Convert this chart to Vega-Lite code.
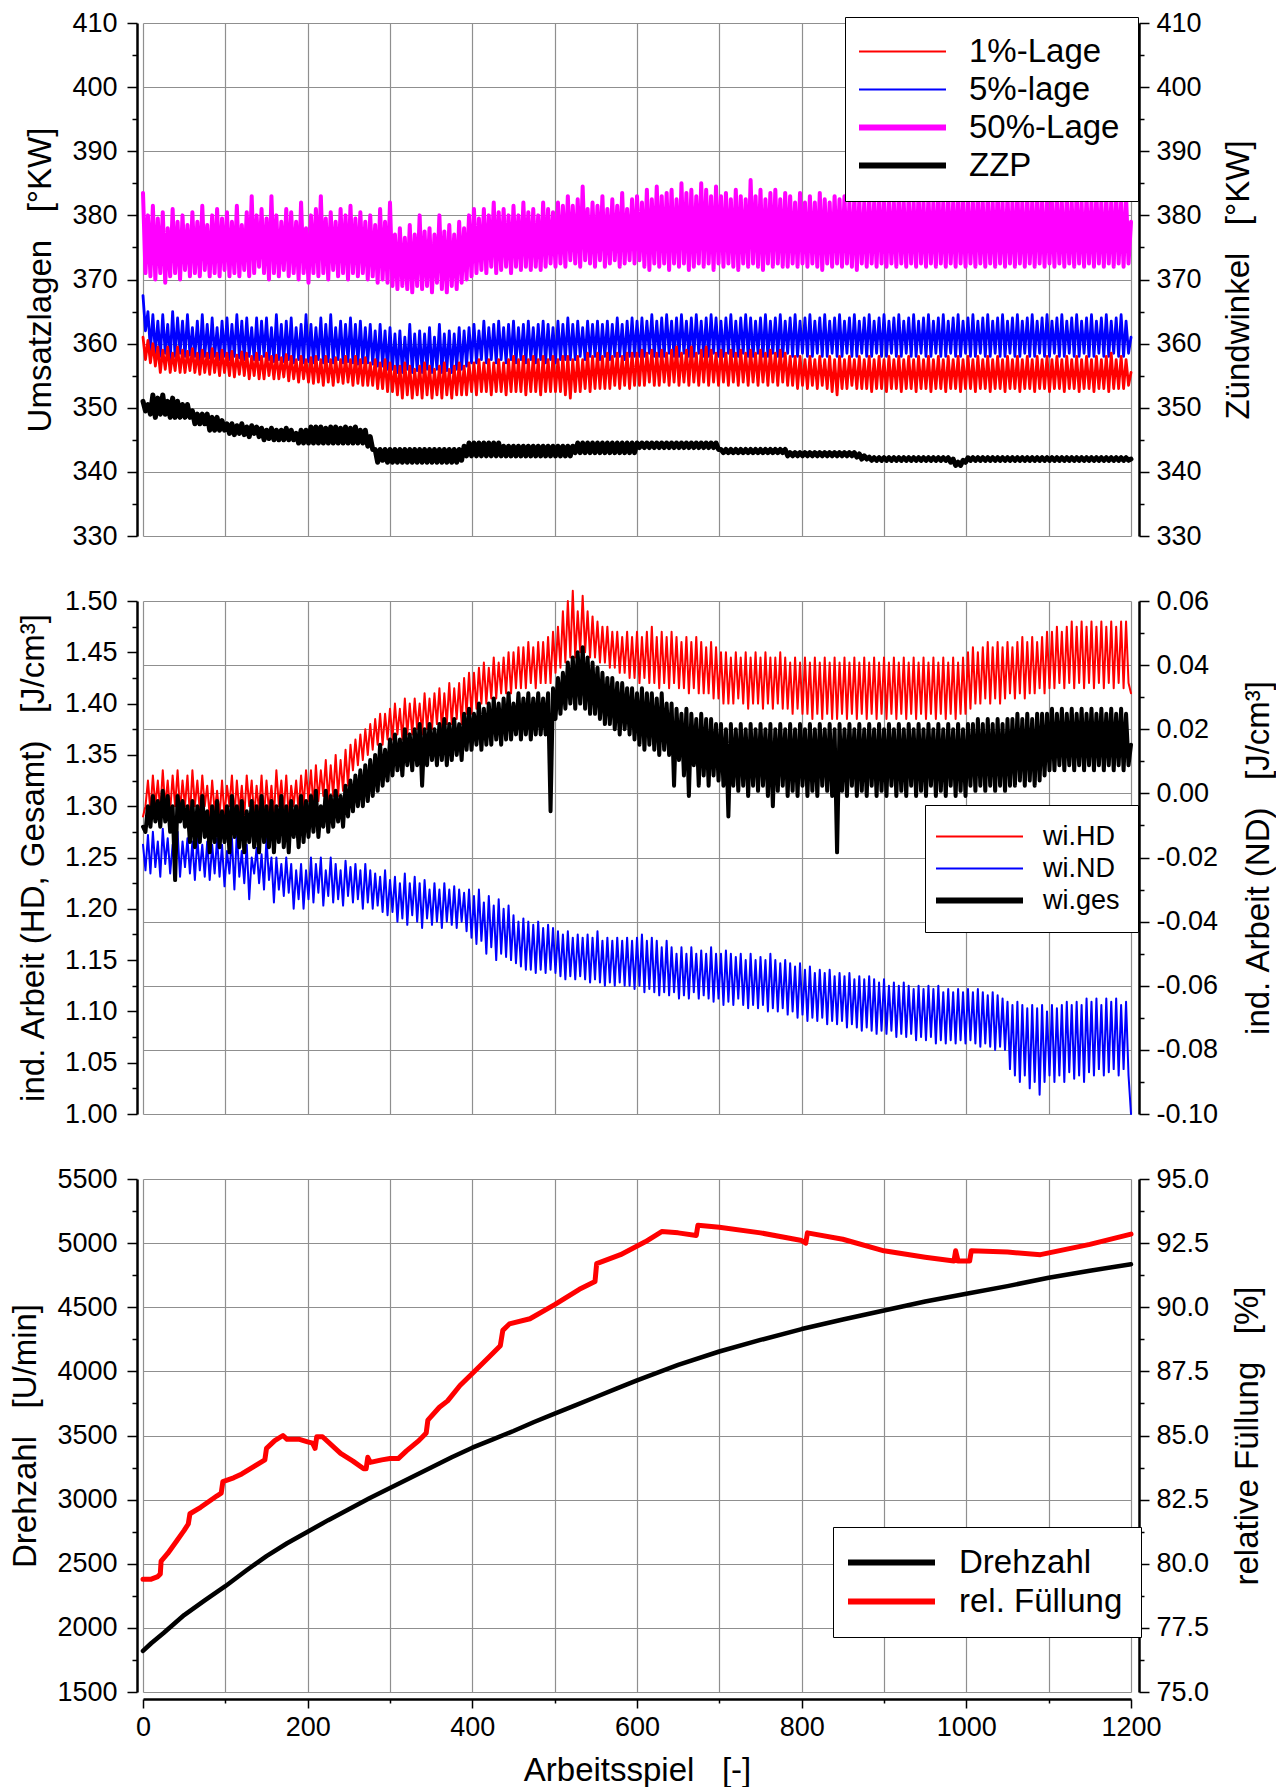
{
"$schema": "https://vega.github.io/schema/vega-lite/v6.json",
"padding": {"left": 9, "top": 9, "right": 0, "bottom": 0},
"spacing": 65,
"bounds": "flush",
"resolve": {"scale": {"color": "independent"}, "legend": {"color": "independent"}},
"config": {
 "font": "Liberation Sans",
 "view": {"stroke": null},
 "axis": {"labelFont": "Liberation Sans", "titleFont": "Liberation Sans", "labelFontSize": 27, "titleFontSize": 33, "titleFontWeight": "normal", "labelColor": "#000", "titleColor": "#000", "domainColor": "#000", "tickColor": "#000", "domainWidth": 2.5, "tickWidth": 1.5, "gridColor": "#8f8f8f", "gridWidth": 1.2, "labelOverlap": false, "labelFlush": false},
 "legend": {"labelFont": "Liberation Sans", "labelColor": "#000", "labelLimit": 400, "strokeColor": "#000", "fillColor": "#fff", "padding": 18, "rowPadding": 4, "symbolType": "M-3,0H3", "symbolSize": 841, "symbolOffset": 23, "labelOffset": 50, "cornerRadius": 0},
 "line": {"strokeJoin": "round", "strokeCap": "round"}
},
"datasets": {
"w": [
{"x":0,"a":361,"b":367.5,"c":383.5,"z":351,"h":1.29,"n":-0.016,"g":1.28},
{"x":3,"a":357.5,"b":362,"c":371,"z":349.5,"h":1.3,"n":-0.024,"g":1.275},
{"x":6,"a":360.5,"b":365,"c":380,"z":350.5,"h":1.325,"n":-0.013,"g":1.3},
{"x":9,"a":357,"b":359,"c":370.5,"z":349,"h":1.295,"n":-0.025,"g":1.28},
{"x":12,"a":360,"b":364.5,"c":381.5,"z":352,"h":1.33,"n":-0.012,"g":1.31},
{"x":15,"a":356.5,"b":358.5,"c":370,"z":348.5,"h":1.3,"n":-0.023,"g":1.285},
{"x":18,"a":359.5,"b":363.5,"c":379.5,"z":351.5,"h":1.325,"n":-0.015,"g":1.305},
{"x":21,"a":355.5,"b":358,"c":371,"z":349,"h":1.295,"n":-0.026,"g":1.28},
{"x":24,"a":359,"b":364.5,"c":380.5,"z":352,"h":1.335,"n":-0.011,"g":1.315},
{"x":27,"a":356,"b":358.5,"c":369.5,"z":349,"h":1.3,"n":-0.022,"g":1.285},
{"x":30,"a":359.5,"b":363,"c":378,"z":351,"h":1.325,"n":-0.014,"g":1.31},
{"x":33,"a":355.5,"b":357.5,"c":370.5,"z":348.5,"h":1.295,"n":-0.025,"g":1.275},
{"x":36,"a":358.5,"b":365,"c":381,"z":351.5,"h":1.33,"n":-0.016,"g":1.3},
{"x":39,"a":355.8,"b":358,"c":371,"z":348.5,"h":1.3,"n":-0.024,"g":1.228},
{"x":42,"a":359.5,"b":364,"c":379,"z":351,"h":1.335,"n":-0.012,"g":1.31},
{"x":45,"a":355.5,"b":358.5,"c":370,"z":348.5,"h":1.295,"n":-0.026,"g":1.285},
{"x":48,"a":359,"b":363.5,"c":380,"z":350.5,"h":1.325,"n":-0.015,"g":1.305},
{"x":51,"a":355.5,"b":358,"c":371.5,"z":348.5,"h":1.3,"n":-0.023,"g":1.28},
{"x":54,"a":358.8,"b":364.5,"c":378.5,"z":350.5,"h":1.33,"n":-0.014,"g":1.3},
{"x":57,"a":355.8,"b":358.2,"c":370.5,"z":348.5,"h":1.29,"n":-0.025,"g":1.265},
{"x":60,"a":359.2,"b":362.5,"c":380.5,"z":349.5,"h":1.335,"n":-0.015,"g":1.305},
{"x":63,"a":355.5,"b":358,"c":371,"z":347.5,"h":1.3,"n":-0.027,"g":1.26},
{"x":66,"a":358.5,"b":363.5,"c":379,"z":349,"h":1.325,"n":-0.014,"g":1.3},
{"x":69,"a":355.2,"b":357.5,"c":370.5,"z":347.5,"h":1.295,"n":-0.024,"g":1.265},
{"x":72,"a":359,"b":364.5,"c":381.5,"z":349,"h":1.33,"n":-0.016,"g":1.31},
{"x":75,"a":355.5,"b":358,"c":371.5,"z":347.5,"h":1.3,"n":-0.026,"g":1.27},
{"x":78,"a":358.5,"b":363,"c":378.5,"z":349,"h":1.32,"n":-0.015,"g":1.295},
{"x":81,"a":355.2,"b":357.8,"c":370.5,"z":346.5,"h":1.29,"n":-0.027,"g":1.255},
{"x":84,"a":359.2,"b":364,"c":380,"z":348.5,"h":1.325,"n":-0.016,"g":1.3},
{"x":87,"a":355.5,"b":358,"c":371,"z":346.5,"h":1.295,"n":-0.025,"g":1.265},
{"x":90,"a":358.5,"b":362.5,"c":381,"z":348.5,"h":1.315,"n":-0.014,"g":1.305},
{"x":93,"a":355,"b":357.5,"c":370.5,"z":346.5,"h":1.29,"n":-0.026,"g":1.26},
{"x":96,"a":359,"b":363.5,"c":379.5,"z":348,"h":1.325,"n":-0.016,"g":1.295},
{"x":99,"a":355.5,"b":358,"c":371.5,"z":346.5,"h":1.29,"n":-0.029,"g":1.265},
{"x":102,"a":358.5,"b":364,"c":380.5,"z":347.5,"h":1.32,"n":-0.018,"g":1.3},
{"x":105,"a":355,"b":357.5,"c":370.5,"z":346,"h":1.3,"n":-0.025,"g":1.255},
{"x":108,"a":358.8,"b":363,"c":379,"z":347.5,"h":1.33,"n":-0.014,"g":1.31},
{"x":111,"a":354.8,"b":358,"c":371,"z":345.8,"h":1.29,"n":-0.03,"g":1.27},
{"x":114,"a":358.2,"b":364.5,"c":381.5,"z":347.2,"h":1.325,"n":-0.012,"g":1.3},
{"x":117,"a":355.2,"b":357.8,"c":370.5,"z":346,"h":1.295,"n":-0.026,"g":1.26},
{"x":120,"a":358.7,"b":363.5,"c":378.5,"z":347.5,"h":1.32,"n":-0.018,"g":1.305},
{"x":123,"a":355,"b":357.5,"c":371.5,"z":345.8,"h":1.29,"n":-0.028,"g":1.255},
{"x":126,"a":358.5,"b":364,"c":380.5,"z":347,"h":1.33,"n":-0.016,"g":1.295},
{"x":129,"a":354.5,"b":358,"c":370.5,"z":345.5,"h":1.3,"n":-0.033,"g":1.265},
{"x":132,"a":358,"b":362.5,"c":383,"z":347.2,"h":1.325,"n":-0.02,"g":1.305},
{"x":135,"a":355,"b":357.5,"c":371,"z":346,"h":1.29,"n":-0.025,"g":1.26},
{"x":138,"a":358.5,"b":364,"c":380,"z":347,"h":1.32,"n":-0.017,"g":1.3},
{"x":141,"a":354.5,"b":357.5,"c":372,"z":345.5,"h":1.295,"n":-0.028,"g":1.255},
{"x":144,"a":358,"b":363.5,"c":381,"z":346.8,"h":1.33,"n":-0.019,"g":1.31},
{"x":147,"a":354.5,"b":358,"c":371,"z":345,"h":1.29,"n":-0.03,"g":1.265},
{"x":150,"a":358.5,"b":364,"c":379.5,"z":346.5,"h":1.325,"n":-0.014,"g":1.3},
{"x":153,"a":355,"b":357.5,"c":370,"z":345.2,"h":1.295,"n":-0.027,"g":1.26},
{"x":156,"a":358,"b":362.5,"c":383,"z":346.8,"h":1.32,"n":-0.02,"g":1.305},
{"x":159,"a":354.5,"b":357.2,"c":371,"z":345,"h":1.29,"n":-0.034,"g":1.255},
{"x":162,"a":358.2,"b":364.5,"c":380,"z":346.5,"h":1.335,"n":-0.02,"g":1.3},
{"x":165,"a":354.5,"b":357.5,"c":370.5,"z":345,"h":1.3,"n":-0.03,"g":1.265},
{"x":168,"a":357.8,"b":363,"c":379,"z":346.5,"h":1.325,"n":-0.022,"g":1.31},
{"x":171,"a":354.8,"b":357.2,"c":371.5,"z":345,"h":1.295,"n":-0.032,"g":1.26},
{"x":174,"a":358.3,"b":363.5,"c":381,"z":346.8,"h":1.33,"n":-0.02,"g":1.3},
{"x":177,"a":354.2,"b":357.5,"c":370.5,"z":345,"h":1.29,"n":-0.031,"g":1.255},
{"x":180,"a":358,"b":364,"c":380.5,"z":346.5,"h":1.32,"n":-0.022,"g":1.305},
{"x":183,"a":354.5,"b":357,"c":371,"z":345,"h":1.3,"n":-0.036,"g":1.27},
{"x":186,"a":357.5,"b":362.5,"c":379,"z":346,"h":1.325,"n":-0.024,"g":1.3},
{"x":189,"a":354,"b":357.5,"c":370,"z":344.5,"h":1.295,"n":-0.033,"g":1.26},
{"x":192,"a":358,"b":363,"c":382,"z":346.5,"h":1.33,"n":-0.022,"g":1.31},
{"x":195,"a":354.5,"b":357,"c":371,"z":344.5,"h":1.3,"n":-0.036,"g":1.265},
{"x":198,"a":357.5,"b":364.5,"c":378,"z":346.5,"h":1.335,"n":-0.024,"g":1.305},
{"x":201,"a":354,"b":357.2,"c":369.5,"z":344.5,"h":1.305,"n":-0.033,"g":1.27},
{"x":204,"a":357.8,"b":363,"c":380,"z":347,"h":1.335,"n":-0.02,"g":1.31},
{"x":207,"a":353.8,"b":357,"c":371,"z":344.5,"h":1.3,"n":-0.034,"g":1.275},
{"x":210,"a":358,"b":362.5,"c":381,"z":347,"h":1.34,"n":-0.022,"g":1.315},
{"x":213,"a":354,"b":357.5,"c":370.5,"z":344.5,"h":1.305,"n":-0.031,"g":1.27},
{"x":216,"a":357.5,"b":364,"c":383,"z":347,"h":1.335,"n":-0.02,"g":1.3},
{"x":219,"a":353.5,"b":357,"c":371,"z":344.5,"h":1.31,"n":-0.035,"g":1.28},
{"x":222,"a":358,"b":363,"c":379.5,"z":346.8,"h":1.345,"n":-0.024,"g":1.315},
{"x":225,"a":354,"b":357.2,"c":370,"z":344.5,"h":1.305,"n":-0.032,"g":1.275},
{"x":228,"a":357.5,"b":364.5,"c":380.5,"z":347,"h":1.34,"n":-0.02,"g":1.31},
{"x":231,"a":353.5,"b":357,"c":371.5,"z":344.5,"h":1.31,"n":-0.034,"g":1.28},
{"x":234,"a":357.8,"b":362.5,"c":379,"z":347,"h":1.35,"n":-0.022,"g":1.315},
{"x":237,"a":354,"b":357.5,"c":370.5,"z":344.5,"h":1.31,"n":-0.033,"g":1.285},
{"x":240,"a":357.5,"b":363.5,"c":381,"z":346.8,"h":1.345,"n":-0.024,"g":1.31},
{"x":243,"a":353.8,"b":357,"c":371,"z":344.5,"h":1.315,"n":-0.035,"g":1.28},
{"x":246,"a":358,"b":363,"c":380,"z":347,"h":1.355,"n":-0.021,"g":1.32},
{"x":249,"a":354,"b":357.2,"c":370,"z":344.5,"h":1.32,"n":-0.032,"g":1.29},
{"x":252,"a":357.5,"b":364,"c":381.5,"z":346.8,"h":1.36,"n":-0.023,"g":1.325},
{"x":255,"a":353.5,"b":357,"c":371,"z":344.5,"h":1.335,"n":-0.034,"g":1.295},
{"x":258,"a":358,"b":363,"c":379.5,"z":347,"h":1.365,"n":-0.022,"g":1.33},
{"x":261,"a":353.8,"b":356.8,"c":370.5,"z":344.5,"h":1.34,"n":-0.033,"g":1.3},
{"x":264,"a":357.5,"b":363.5,"c":380.5,"z":346.5,"h":1.37,"n":-0.024,"g":1.335},
{"x":267,"a":353.5,"b":357,"c":371,"z":344.5,"h":1.345,"n":-0.036,"g":1.3},
{"x":270,"a":357.8,"b":362.5,"c":379,"z":346.5,"h":1.375,"n":-0.022,"g":1.34},
{"x":273,"a":353.5,"b":357,"c":370,"z":344,"h":1.35,"n":-0.034,"g":1.305},
{"x":276,"a":357,"b":363,"c":380,"z":345.5,"h":1.38,"n":-0.024,"g":1.345},
{"x":279,"a":353.5,"b":356.8,"c":370.5,"z":343.5,"h":1.355,"n":-0.036,"g":1.31},
{"x":282,"a":357.5,"b":362,"c":378.5,"z":343.5,"h":1.385,"n":-0.025,"g":1.35},
{"x":285,"a":353,"b":356.5,"c":369.5,"z":341.5,"h":1.36,"n":-0.035,"g":1.315},
{"x":288,"a":357,"b":363,"c":381,"z":343.5,"h":1.39,"n":-0.026,"g":1.36},
{"x":291,"a":353,"b":356.5,"c":370,"z":341.8,"h":1.36,"n":-0.037,"g":1.32},
{"x":294,"a":357.5,"b":362,"c":379,"z":343.5,"h":1.39,"n":-0.024,"g":1.355},
{"x":297,"a":352.5,"b":356,"c":369.5,"z":341.5,"h":1.365,"n":-0.038,"g":1.325},
{"x":300,"a":357,"b":362.5,"c":382,"z":343.5,"h":1.395,"n":-0.027,"g":1.365},
{"x":303,"a":352.5,"b":356,"c":369,"z":341.5,"h":1.365,"n":-0.037,"g":1.33},
{"x":306,"a":356.5,"b":361.5,"c":377,"z":343.5,"h":1.4,"n":-0.026,"g":1.37},
{"x":309,"a":352,"b":355.5,"c":368.5,"z":341.5,"h":1.37,"n":-0.04,"g":1.335},
{"x":312,"a":356.5,"b":362,"c":378,"z":343.5,"h":1.395,"n":-0.028,"g":1.365},
{"x":315,"a":351.5,"b":355.5,"c":369,"z":341.5,"h":1.365,"n":-0.039,"g":1.33},
{"x":318,"a":357,"b":361,"c":376.5,"z":343.5,"h":1.405,"n":-0.025,"g":1.375},
{"x":321,"a":352,"b":356,"c":368.5,"z":341.5,"h":1.37,"n":-0.041,"g":1.34},
{"x":324,"a":356.5,"b":363,"c":378.5,"z":343.5,"h":1.4,"n":-0.028,"g":1.37},
{"x":327,"a":351.5,"b":355.5,"c":368,"z":341.5,"h":1.37,"n":-0.038,"g":1.335},
{"x":330,"a":356,"b":361.5,"c":377,"z":343.5,"h":1.405,"n":-0.026,"g":1.375},
{"x":333,"a":352,"b":355.8,"c":369,"z":341.5,"h":1.375,"n":-0.04,"g":1.34},
{"x":336,"a":356.5,"b":362,"c":380,"z":343.5,"h":1.4,"n":-0.028,"g":1.38},
{"x":339,"a":351.5,"b":355.5,"c":368.5,"z":341.5,"h":1.37,"n":-0.042,"g":1.32},
{"x":342,"a":357,"b":361.5,"c":377.5,"z":343.5,"h":1.41,"n":-0.027,"g":1.375},
{"x":345,"a":352,"b":356,"c":369,"z":341.5,"h":1.375,"n":-0.039,"g":1.34},
{"x":348,"a":356.5,"b":362.5,"c":378,"z":343.5,"h":1.405,"n":-0.03,"g":1.38},
{"x":351,"a":351.5,"b":355.5,"c":368,"z":341.5,"h":1.375,"n":-0.041,"g":1.345},
{"x":354,"a":356,"b":361,"c":377,"z":343.5,"h":1.41,"n":-0.028,"g":1.375},
{"x":357,"a":352,"b":356,"c":369.5,"z":341.5,"h":1.38,"n":-0.04,"g":1.34},
{"x":360,"a":356.5,"b":363,"c":380,"z":343.5,"h":1.415,"n":-0.03,"g":1.38},
{"x":363,"a":351.5,"b":355.5,"c":368.5,"z":341.5,"h":1.375,"n":-0.042,"g":1.345},
{"x":366,"a":357,"b":361.5,"c":377.5,"z":343.5,"h":1.41,"n":-0.028,"g":1.385},
{"x":369,"a":352,"b":355.8,"c":368,"z":341.5,"h":1.38,"n":-0.04,"g":1.34},
{"x":372,"a":356,"b":362,"c":378.5,"z":343.5,"h":1.42,"n":-0.03,"g":1.38},
{"x":375,"a":351.5,"b":355.5,"c":369,"z":341.5,"h":1.38,"n":-0.041,"g":1.345},
{"x":378,"a":356.5,"b":361.5,"c":377,"z":343.5,"h":1.415,"n":-0.029,"g":1.385},
{"x":381,"a":352,"b":356,"c":368.5,"z":341.5,"h":1.385,"n":-0.042,"g":1.35},
{"x":384,"a":357,"b":362.5,"c":379,"z":343.5,"h":1.42,"n":-0.03,"g":1.38},
{"x":387,"a":352,"b":356,"c":369.5,"z":341.8,"h":1.38,"n":-0.04,"g":1.345},
{"x":390,"a":356.5,"b":362,"c":378,"z":344,"h":1.425,"n":-0.031,"g":1.39},
{"x":393,"a":352,"b":356.5,"c":370,"z":342.5,"h":1.39,"n":-0.043,"g":1.355},
{"x":396,"a":357,"b":362.5,"c":380,"z":344.5,"h":1.43,"n":-0.03,"g":1.395},
{"x":399,"a":352.5,"b":357,"c":370.5,"z":342.5,"h":1.39,"n":-0.045,"g":1.355},
{"x":402,"a":357,"b":363,"c":381,"z":344.5,"h":1.43,"n":-0.032,"g":1.39},
{"x":405,"a":352,"b":357,"c":371,"z":342.5,"h":1.395,"n":-0.047,"g":1.36},
{"x":408,"a":357.5,"b":362,"c":379.5,"z":344.5,"h":1.435,"n":-0.03,"g":1.4},
{"x":411,"a":352.5,"b":357.5,"c":371.5,"z":342.5,"h":1.4,"n":-0.046,"g":1.355},
{"x":414,"a":357,"b":363.5,"c":381,"z":344.5,"h":1.44,"n":-0.034,"g":1.395},
{"x":417,"a":352.5,"b":357,"c":371,"z":342.5,"h":1.4,"n":-0.05,"g":1.36},
{"x":420,"a":357.5,"b":362.5,"c":380,"z":344.5,"h":1.435,"n":-0.032,"g":1.4},
{"x":423,"a":352,"b":357.5,"c":372,"z":342.5,"h":1.405,"n":-0.048,"g":1.36},
{"x":426,"a":357,"b":363,"c":382,"z":344.5,"h":1.445,"n":-0.035,"g":1.405},
{"x":429,"a":352.5,"b":357,"c":371,"z":342.5,"h":1.405,"n":-0.052,"g":1.365},
{"x":432,"a":357.5,"b":363.5,"c":380.5,"z":344.5,"h":1.44,"n":-0.033,"g":1.4},
{"x":435,"a":352.5,"b":357.5,"c":371.5,"z":342.5,"h":1.41,"n":-0.05,"g":1.36},
{"x":438,"a":357,"b":362.5,"c":381,"z":344,"h":1.445,"n":-0.036,"g":1.405},
{"x":441,"a":352,"b":357,"c":372,"z":342.5,"h":1.41,"n":-0.051,"g":1.365},
{"x":444,"a":357.5,"b":363,"c":380,"z":344,"h":1.45,"n":-0.035,"g":1.41},
{"x":447,"a":352.5,"b":357.5,"c":371,"z":342.5,"h":1.41,"n":-0.052,"g":1.365},
{"x":450,"a":358,"b":363.5,"c":381.5,"z":344,"h":1.45,"n":-0.038,"g":1.4},
{"x":453,"a":352.5,"b":357,"c":372,"z":342.5,"h":1.415,"n":-0.053,"g":1.37},
{"x":456,"a":357.5,"b":362.5,"c":380,"z":344,"h":1.455,"n":-0.04,"g":1.41},
{"x":459,"a":352.5,"b":357.5,"c":371.5,"z":342.5,"h":1.415,"n":-0.054,"g":1.365},
{"x":462,"a":358,"b":363,"c":382,"z":344,"h":1.455,"n":-0.039,"g":1.405},
{"x":465,"a":352,"b":357,"c":372,"z":342.5,"h":1.415,"n":-0.055,"g":1.37},
{"x":468,"a":357.5,"b":363.5,"c":380.5,"z":344,"h":1.46,"n":-0.04,"g":1.41},
{"x":471,"a":352.5,"b":357.5,"c":371.5,"z":342.5,"h":1.42,"n":-0.055,"g":1.365},
{"x":474,"a":358,"b":362.5,"c":381,"z":344,"h":1.455,"n":-0.041,"g":1.405},
{"x":477,"a":352.5,"b":357,"c":372,"z":342.5,"h":1.415,"n":-0.056,"g":1.37},
{"x":480,"a":357.5,"b":363,"c":380,"z":344,"h":1.46,"n":-0.04,"g":1.41},
{"x":483,"a":352,"b":357.5,"c":371.5,"z":342.5,"h":1.42,"n":-0.055,"g":1.37},
{"x":486,"a":358,"b":363.5,"c":382,"z":344,"h":1.46,"n":-0.042,"g":1.405},
{"x":489,"a":352.5,"b":357,"c":372,"z":342.5,"h":1.42,"n":-0.056,"g":1.37},
{"x":492,"a":357.5,"b":363,"c":381,"z":344,"h":1.465,"n":-0.041,"g":1.41},
{"x":495,"a":352.5,"b":357.5,"c":372.5,"z":342.5,"h":1.42,"n":-0.055,"g":1.295},
{"x":498,"a":358,"b":362.5,"c":380.5,"z":344,"h":1.47,"n":-0.042,"g":1.415},
{"x":501,"a":352.5,"b":357,"c":372,"z":342.5,"h":1.43,"n":-0.056,"g":1.385},
{"x":504,"a":357.5,"b":363.5,"c":382,"z":344,"h":1.475,"n":-0.043,"g":1.425},
{"x":507,"a":352.5,"b":357.5,"c":372.5,"z":342.5,"h":1.435,"n":-0.057,"g":1.39},
{"x":510,"a":358,"b":363,"c":381.5,"z":344,"h":1.49,"n":-0.044,"g":1.43},
{"x":513,"a":352,"b":357.5,"c":372,"z":342.5,"h":1.44,"n":-0.058,"g":1.395},
{"x":516,"a":358,"b":364,"c":383,"z":344,"h":1.5,"n":-0.043,"g":1.44},
{"x":519,"a":351.5,"b":357.5,"c":373,"z":342.5,"h":1.445,"n":-0.057,"g":1.4},
{"x":522,"a":357.5,"b":363,"c":381.5,"z":344,"h":1.51,"n":-0.045,"g":1.445},
{"x":525,"a":352.5,"b":357.5,"c":372.5,"z":343,"h":1.445,"n":-0.058,"g":1.395},
{"x":528,"a":358,"b":363.5,"c":382.5,"z":344.5,"h":1.49,"n":-0.044,"g":1.45},
{"x":531,"a":352.5,"b":358,"c":372,"z":343,"h":1.45,"n":-0.057,"g":1.4},
{"x":534,"a":357.5,"b":362.5,"c":384.5,"z":344.5,"h":1.505,"n":-0.045,"g":1.455},
{"x":537,"a":353,"b":357.5,"c":373,"z":343,"h":1.45,"n":-0.058,"g":1.395},
{"x":540,"a":358.5,"b":363.5,"c":381,"z":344.5,"h":1.49,"n":-0.044,"g":1.445},
{"x":543,"a":352.5,"b":358,"c":372.5,"z":343,"h":1.445,"n":-0.059,"g":1.39},
{"x":546,"a":358,"b":363,"c":382,"z":344.5,"h":1.485,"n":-0.045,"g":1.44},
{"x":549,"a":353,"b":358,"c":372,"z":343,"h":1.445,"n":-0.058,"g":1.39},
{"x":552,"a":358.5,"b":363.5,"c":381.5,"z":344.5,"h":1.48,"n":-0.043,"g":1.435},
{"x":555,"a":353,"b":357.5,"c":373,"z":343,"h":1.44,"n":-0.059,"g":1.385},
{"x":558,"a":358,"b":363,"c":383,"z":344.5,"h":1.475,"n":-0.046,"g":1.43},
{"x":561,"a":353,"b":358,"c":372,"z":343,"h":1.44,"n":-0.06,"g":1.38},
{"x":564,"a":358.5,"b":363.5,"c":381,"z":344.5,"h":1.475,"n":-0.045,"g":1.425},
{"x":567,"a":353,"b":357.5,"c":372.5,"z":343,"h":1.435,"n":-0.059,"g":1.38},
{"x":570,"a":358,"b":363,"c":382.5,"z":344.5,"h":1.47,"n":-0.046,"g":1.425},
{"x":573,"a":353.5,"b":358,"c":373,"z":343,"h":1.435,"n":-0.06,"g":1.375},
{"x":576,"a":358.5,"b":364,"c":381.5,"z":344.5,"h":1.47,"n":-0.045,"g":1.42},
{"x":579,"a":353,"b":358,"c":372,"z":343,"h":1.43,"n":-0.059,"g":1.37},
{"x":582,"a":358,"b":363,"c":383.5,"z":344.5,"h":1.465,"n":-0.046,"g":1.42},
{"x":585,"a":353.5,"b":357.5,"c":372.5,"z":343,"h":1.43,"n":-0.06,"g":1.375},
{"x":588,"a":358.5,"b":363.5,"c":381,"z":344.5,"h":1.47,"n":-0.045,"g":1.415},
{"x":591,"a":353,"b":358,"c":373,"z":343,"h":1.425,"n":-0.06,"g":1.37},
{"x":594,"a":358.5,"b":364,"c":382.5,"z":344.5,"h":1.465,"n":-0.046,"g":1.415},
{"x":597,"a":353.5,"b":358,"c":372.5,"z":343,"h":1.425,"n":-0.061,"g":1.365},
{"x":600,"a":358.5,"b":363.5,"c":383,"z":344.5,"h":1.47,"n":-0.045,"g":1.41},
{"x":603,"a":353.5,"b":358,"c":373,"z":343.8,"h":1.42,"n":-0.06,"g":1.36},
{"x":606,"a":359,"b":364,"c":382,"z":344.5,"h":1.465,"n":-0.044,"g":1.415},
{"x":609,"a":353.5,"b":358,"c":372,"z":343.8,"h":1.425,"n":-0.062,"g":1.355},
{"x":612,"a":358.5,"b":363.5,"c":384,"z":344.5,"h":1.47,"n":-0.046,"g":1.41},
{"x":615,"a":354,"b":358.5,"c":371.5,"z":343.8,"h":1.42,"n":-0.061,"g":1.36},
{"x":618,"a":359,"b":364.5,"c":382.5,"z":344.5,"h":1.475,"n":-0.045,"g":1.41},
{"x":621,"a":353.5,"b":358,"c":372.5,"z":343.8,"h":1.42,"n":-0.062,"g":1.355},
{"x":624,"a":358.5,"b":363.5,"c":384.5,"z":344.5,"h":1.465,"n":-0.046,"g":1.405},
{"x":627,"a":353.5,"b":358,"c":372,"z":343.8,"h":1.415,"n":-0.063,"g":1.35},
{"x":630,"a":359,"b":364,"c":383,"z":344.5,"h":1.47,"n":-0.048,"g":1.41},
{"x":633,"a":354,"b":358,"c":372.5,"z":343.8,"h":1.42,"n":-0.062,"g":1.355},
{"x":636,"a":358.5,"b":364.5,"c":383.5,"z":344.5,"h":1.465,"n":-0.046,"g":1.4},
{"x":639,"a":353.5,"b":358.5,"c":371.5,"z":343.8,"h":1.415,"n":-0.063,"g":1.35},
{"x":642,"a":359,"b":363.5,"c":384,"z":344.5,"h":1.47,"n":-0.048,"g":1.4},
{"x":645,"a":354,"b":358,"c":372.5,"z":343.8,"h":1.42,"n":-0.062,"g":1.32},
{"x":648,"a":359.5,"b":364,"c":382.5,"z":344.5,"h":1.465,"n":-0.05,"g":1.395},
{"x":651,"a":353.5,"b":358,"c":372,"z":343.8,"h":1.415,"n":-0.064,"g":1.345},
{"x":654,"a":358.5,"b":364.5,"c":385,"z":344.5,"h":1.46,"n":-0.048,"g":1.39},
{"x":657,"a":354,"b":358.5,"c":372.5,"z":343.8,"h":1.415,"n":-0.063,"g":1.33},
{"x":660,"a":359,"b":363.5,"c":383.5,"z":344.5,"h":1.465,"n":-0.05,"g":1.395},
{"x":663,"a":353.5,"b":358,"c":371.5,"z":343.8,"h":1.41,"n":-0.064,"g":1.31},
{"x":666,"a":359.5,"b":364,"c":384,"z":344.5,"h":1.46,"n":-0.048,"g":1.39},
{"x":669,"a":354,"b":358,"c":372,"z":343.8,"h":1.415,"n":-0.062,"g":1.34},
{"x":672,"a":358.5,"b":364.5,"c":383,"z":344.5,"h":1.465,"n":-0.05,"g":1.385},
{"x":675,"a":353.5,"b":358.5,"c":372.5,"z":343.8,"h":1.41,"n":-0.064,"g":1.32},
{"x":678,"a":359,"b":363.5,"c":385,"z":344.5,"h":1.46,"n":-0.049,"g":1.39},
{"x":681,"a":354,"b":358,"c":372,"z":343.8,"h":1.41,"n":-0.063,"g":1.33},
{"x":684,"a":359.5,"b":364,"c":384,"z":344.5,"h":1.455,"n":-0.05,"g":1.385},
{"x":687,"a":353.5,"b":358,"c":372.5,"z":343.8,"h":1.41,"n":-0.064,"g":1.32},
{"x":690,"a":359,"b":364.5,"c":383,"z":344.5,"h":1.46,"n":-0.048,"g":1.385},
{"x":693,"a":354,"b":358.5,"c":371.5,"z":343.8,"h":1.405,"n":-0.065,"g":1.33},
{"x":696,"a":358.5,"b":364,"c":384.5,"z":344.5,"h":1.455,"n":-0.05,"g":1.38},
{"x":699,"a":353.5,"b":358,"c":372.5,"z":343.5,"h":1.405,"n":-0.064,"g":1.325},
{"x":702,"a":359,"b":363.5,"c":383,"z":343.5,"h":1.45,"n":-0.05,"g":1.38},
{"x":705,"a":354,"b":358,"c":372,"z":343,"h":1.4,"n":-0.066,"g":1.32},
{"x":708,"a":358.5,"b":364,"c":383.5,"z":343.5,"h":1.45,"n":-0.049,"g":1.375},
{"x":711,"a":353.5,"b":358.5,"c":372.5,"z":343,"h":1.4,"n":-0.065,"g":1.29},
{"x":714,"a":359,"b":364.5,"c":382.5,"z":343.5,"h":1.445,"n":-0.05,"g":1.38},
{"x":717,"a":354,"b":358,"c":372,"z":343,"h":1.4,"n":-0.066,"g":1.32},
{"x":720,"a":358.5,"b":363.5,"c":384,"z":343.5,"h":1.45,"n":-0.051,"g":1.375},
{"x":723,"a":353.5,"b":358,"c":371.5,"z":343,"h":1.405,"n":-0.064,"g":1.315},
{"x":726,"a":359,"b":364,"c":383,"z":343.5,"h":1.445,"n":-0.05,"g":1.38},
{"x":729,"a":354,"b":358.5,"c":372.5,"z":343,"h":1.4,"n":-0.066,"g":1.32},
{"x":732,"a":358.5,"b":364.5,"c":382.5,"z":343.5,"h":1.45,"n":-0.052,"g":1.375},
{"x":735,"a":353.5,"b":358,"c":372,"z":343,"h":1.395,"n":-0.067,"g":1.31},
{"x":738,"a":359,"b":364,"c":385.5,"z":343.5,"h":1.445,"n":-0.05,"g":1.38},
{"x":741,"a":354,"b":358,"c":372.5,"z":343,"h":1.4,"n":-0.066,"g":1.32},
{"x":744,"a":358.5,"b":363.5,"c":383,"z":343.5,"h":1.45,"n":-0.052,"g":1.375},
{"x":747,"a":353.5,"b":358.5,"c":372,"z":343,"h":1.4,"n":-0.067,"g":1.315},
{"x":750,"a":359,"b":364,"c":384,"z":343.5,"h":1.445,"n":-0.051,"g":1.38},
{"x":753,"a":354,"b":358,"c":371.5,"z":343,"h":1.395,"n":-0.066,"g":1.32},
{"x":756,"a":358.5,"b":364.5,"c":382.5,"z":343.5,"h":1.45,"n":-0.052,"g":1.375},
{"x":759,"a":353.5,"b":358,"c":372.5,"z":343,"h":1.4,"n":-0.068,"g":1.31},
{"x":762,"a":359,"b":363.5,"c":383.5,"z":343.5,"h":1.445,"n":-0.05,"g":1.38},
{"x":765,"a":354,"b":358.5,"c":372,"z":343,"h":1.395,"n":-0.067,"g":1.3},
{"x":768,"a":358.5,"b":364,"c":384,"z":343.5,"h":1.445,"n":-0.052,"g":1.375},
{"x":771,"a":353.5,"b":358,"c":372.5,"z":343,"h":1.4,"n":-0.068,"g":1.315},
{"x":774,"a":359,"b":364.5,"c":382.5,"z":343.5,"h":1.45,"n":-0.053,"g":1.38},
{"x":777,"a":354,"b":358,"c":372,"z":343,"h":1.395,"n":-0.067,"g":1.32},
{"x":780,"a":358.5,"b":363.5,"c":383.5,"z":343.5,"h":1.445,"n":-0.052,"g":1.375},
{"x":783,"a":353.5,"b":358.5,"c":372,"z":342.5,"h":1.395,"n":-0.069,"g":1.31},
{"x":786,"a":358,"b":364,"c":383,"z":343,"h":1.44,"n":-0.053,"g":1.38},
{"x":789,"a":353.5,"b":358,"c":372.5,"z":342.5,"h":1.39,"n":-0.068,"g":1.315},
{"x":792,"a":358,"b":364.5,"c":382,"z":343,"h":1.445,"n":-0.054,"g":1.375},
{"x":795,"a":353,"b":358,"c":372,"z":342.5,"h":1.395,"n":-0.07,"g":1.31},
{"x":798,"a":358,"b":363.5,"c":383.5,"z":343,"h":1.44,"n":-0.053,"g":1.38},
{"x":801,"a":353.5,"b":358.5,"c":372.5,"z":342.5,"h":1.39,"n":-0.069,"g":1.32},
{"x":804,"a":357.5,"b":364,"c":382,"z":343,"h":1.445,"n":-0.055,"g":1.375},
{"x":807,"a":353,"b":358,"c":372,"z":342.5,"h":1.39,"n":-0.071,"g":1.31},
{"x":810,"a":358,"b":364.5,"c":383,"z":343,"h":1.44,"n":-0.054,"g":1.38},
{"x":813,"a":353.5,"b":358,"c":372.5,"z":342.5,"h":1.385,"n":-0.07,"g":1.315},
{"x":816,"a":357.5,"b":363.5,"c":382,"z":343,"h":1.445,"n":-0.056,"g":1.375},
{"x":819,"a":353,"b":358.5,"c":372,"z":342.5,"h":1.39,"n":-0.071,"g":1.31},
{"x":822,"a":358,"b":364,"c":383.5,"z":343,"h":1.44,"n":-0.055,"g":1.38},
{"x":825,"a":353.5,"b":358,"c":371.5,"z":342.5,"h":1.385,"n":-0.07,"g":1.32},
{"x":828,"a":357.5,"b":364.5,"c":382.5,"z":343,"h":1.445,"n":-0.056,"g":1.375},
{"x":831,"a":353,"b":358,"c":372.5,"z":342.5,"h":1.39,"n":-0.072,"g":1.315},
{"x":834,"a":358,"b":363.5,"c":382,"z":343,"h":1.44,"n":-0.055,"g":1.38},
{"x":837,"a":352.5,"b":358.5,"c":372,"z":342.5,"h":1.385,"n":-0.071,"g":1.31},
{"x":840,"a":357.5,"b":364,"c":383,"z":343,"h":1.445,"n":-0.057,"g":1.375},
{"x":843,"a":352,"b":358,"c":372.5,"z":342.5,"h":1.385,"n":-0.072,"g":1.255},
{"x":846,"a":358,"b":364.5,"c":382.5,"z":343,"h":1.44,"n":-0.056,"g":1.38},
{"x":849,"a":353,"b":358,"c":372,"z":342.5,"h":1.39,"n":-0.071,"g":1.315},
{"x":852,"a":357.5,"b":363.5,"c":383,"z":343,"h":1.445,"n":-0.057,"g":1.375},
{"x":855,"a":353,"b":358.5,"c":372.5,"z":342.5,"h":1.385,"n":-0.073,"g":1.31},
{"x":858,"a":358,"b":364,"c":382,"z":343,"h":1.44,"n":-0.056,"g":1.38},
{"x":861,"a":353.5,"b":358,"c":372,"z":342.5,"h":1.39,"n":-0.072,"g":1.32},
{"x":864,"a":357.5,"b":364.5,"c":383,"z":343,"h":1.445,"n":-0.058,"g":1.375},
{"x":867,"a":353,"b":358,"c":371.5,"z":342.3,"h":1.385,"n":-0.073,"g":1.31},
{"x":870,"a":358,"b":363.5,"c":382.5,"z":342.8,"h":1.44,"n":-0.057,"g":1.38},
{"x":873,"a":353,"b":358.5,"c":372.5,"z":342,"h":1.39,"n":-0.074,"g":1.315},
{"x":876,"a":357.5,"b":364,"c":382,"z":342.5,"h":1.445,"n":-0.058,"g":1.375},
{"x":879,"a":353,"b":358,"c":372,"z":342,"h":1.385,"n":-0.073,"g":1.31},
{"x":882,"a":358,"b":364.5,"c":383,"z":342.3,"h":1.44,"n":-0.057,"g":1.38},
{"x":885,"a":352.5,"b":358,"c":372.5,"z":341.8,"h":1.39,"n":-0.074,"g":1.32},
{"x":888,"a":357.5,"b":363.5,"c":382,"z":342.2,"h":1.445,"n":-0.058,"g":1.375},
{"x":891,"a":353,"b":358.5,"c":372,"z":341.8,"h":1.385,"n":-0.075,"g":1.31},
{"x":894,"a":358,"b":364,"c":383.5,"z":342.2,"h":1.44,"n":-0.059,"g":1.38},
{"x":897,"a":353,"b":358,"c":372.5,"z":341.8,"h":1.39,"n":-0.074,"g":1.315},
{"x":900,"a":357.5,"b":364.5,"c":382,"z":342.2,"h":1.445,"n":-0.058,"g":1.375},
{"x":903,"a":352.5,"b":358,"c":372,"z":341.8,"h":1.385,"n":-0.075,"g":1.31},
{"x":906,"a":358,"b":363.5,"c":383,"z":342.2,"h":1.44,"n":-0.06,"g":1.38},
{"x":909,"a":353,"b":358.5,"c":372.5,"z":341.8,"h":1.39,"n":-0.074,"g":1.32},
{"x":912,"a":357.5,"b":364,"c":382,"z":342.2,"h":1.445,"n":-0.059,"g":1.375},
{"x":915,"a":353,"b":358,"c":372,"z":341.8,"h":1.385,"n":-0.076,"g":1.31},
{"x":918,"a":358,"b":364.5,"c":383.5,"z":342.2,"h":1.44,"n":-0.06,"g":1.38},
{"x":921,"a":352.5,"b":358,"c":372.5,"z":341.8,"h":1.39,"n":-0.075,"g":1.315},
{"x":924,"a":357.5,"b":363.5,"c":382,"z":342.2,"h":1.445,"n":-0.059,"g":1.375},
{"x":927,"a":353,"b":358.5,"c":372,"z":341.8,"h":1.385,"n":-0.076,"g":1.31},
{"x":930,"a":358,"b":364,"c":383,"z":342.2,"h":1.44,"n":-0.06,"g":1.38},
{"x":933,"a":353,"b":358,"c":372.5,"z":341.8,"h":1.39,"n":-0.075,"g":1.32},
{"x":936,"a":357.5,"b":364.5,"c":382,"z":342.2,"h":1.445,"n":-0.061,"g":1.375},
{"x":939,"a":352.5,"b":358,"c":372,"z":341.8,"h":1.385,"n":-0.077,"g":1.31},
{"x":942,"a":358,"b":363.5,"c":383.5,"z":342.2,"h":1.44,"n":-0.06,"g":1.38},
{"x":945,"a":353,"b":358.5,"c":372.5,"z":341.8,"h":1.39,"n":-0.076,"g":1.315},
{"x":948,"a":357.5,"b":364,"c":382,"z":342.2,"h":1.445,"n":-0.061,"g":1.375},
{"x":951,"a":353,"b":358,"c":372,"z":341.8,"h":1.385,"n":-0.077,"g":1.31},
{"x":954,"a":358,"b":364.5,"c":383,"z":342.2,"h":1.44,"n":-0.06,"g":1.38},
{"x":957,"a":352.5,"b":358,"c":372.5,"z":341.8,"h":1.39,"n":-0.076,"g":1.32},
{"x":960,"a":357.5,"b":363.5,"c":382,"z":342.2,"h":1.445,"n":-0.061,"g":1.375},
{"x":963,"a":353,"b":358.5,"c":372,"z":341.8,"h":1.385,"n":-0.078,"g":1.31},
{"x":966,"a":358,"b":364,"c":383.5,"z":342.2,"h":1.44,"n":-0.06,"g":1.38},
{"x":969,"a":353,"b":358,"c":372.5,"z":341.8,"h":1.39,"n":-0.077,"g":1.315},
{"x":972,"a":357.5,"b":364.5,"c":382,"z":342.2,"h":1.445,"n":-0.062,"g":1.375},
{"x":975,"a":352.5,"b":358,"c":372,"z":341.8,"h":1.385,"n":-0.078,"g":1.31},
{"x":978,"a":358,"b":363.5,"c":383,"z":342.2,"h":1.44,"n":-0.061,"g":1.38},
{"x":981,"a":353,"b":358.5,"c":372.5,"z":341.5,"h":1.39,"n":-0.077,"g":1.32},
{"x":984,"a":357.5,"b":364,"c":382,"z":342,"h":1.445,"n":-0.062,"g":1.375},
{"x":987,"a":353,"b":358,"c":372,"z":341,"h":1.385,"n":-0.078,"g":1.31},
{"x":990,"a":358,"b":364.5,"c":383.5,"z":341.5,"h":1.44,"n":-0.061,"g":1.38},
{"x":993,"a":352.5,"b":358,"c":372.5,"z":341,"h":1.39,"n":-0.077,"g":1.315},
{"x":996,"a":357.5,"b":363.5,"c":382,"z":341.8,"h":1.445,"n":-0.062,"g":1.375},
{"x":999,"a":353,"b":358.5,"c":372,"z":341.5,"h":1.39,"n":-0.078,"g":1.31},
{"x":1002,"a":358,"b":364,"c":383,"z":342.2,"h":1.45,"n":-0.061,"g":1.38},
{"x":1005,"a":353,"b":358,"c":372.5,"z":341.8,"h":1.395,"n":-0.077,"g":1.32},
{"x":1008,"a":357.5,"b":364.5,"c":382,"z":342.2,"h":1.455,"n":-0.062,"g":1.38},
{"x":1011,"a":352.5,"b":358,"c":372,"z":341.8,"h":1.4,"n":-0.078,"g":1.315},
{"x":1014,"a":358,"b":363.5,"c":383.5,"z":342.2,"h":1.45,"n":-0.061,"g":1.385},
{"x":1017,"a":353,"b":358.5,"c":372.5,"z":341.8,"h":1.4,"n":-0.079,"g":1.32},
{"x":1020,"a":357.5,"b":364,"c":382,"z":342.2,"h":1.455,"n":-0.062,"g":1.38},
{"x":1023,"a":353,"b":358,"c":372,"z":341.8,"h":1.405,"n":-0.078,"g":1.315},
{"x":1026,"a":358,"b":364.5,"c":383,"z":342.2,"h":1.46,"n":-0.063,"g":1.385},
{"x":1029,"a":352.5,"b":358,"c":372.5,"z":341.8,"h":1.4,"n":-0.079,"g":1.32},
{"x":1032,"a":357.5,"b":363.5,"c":382,"z":342.2,"h":1.455,"n":-0.062,"g":1.38},
{"x":1035,"a":353,"b":358.5,"c":372,"z":341.8,"h":1.405,"n":-0.08,"g":1.315},
{"x":1038,"a":358,"b":364,"c":383.5,"z":342.2,"h":1.46,"n":-0.063,"g":1.385},
{"x":1041,"a":353,"b":358,"c":372.5,"z":341.8,"h":1.4,"n":-0.079,"g":1.32},
{"x":1044,"a":357.5,"b":364.5,"c":382,"z":342.2,"h":1.455,"n":-0.064,"g":1.38},
{"x":1047,"a":352.5,"b":358,"c":372,"z":341.8,"h":1.405,"n":-0.08,"g":1.315},
{"x":1050,"a":358,"b":363.5,"c":383,"z":342.2,"h":1.46,"n":-0.065,"g":1.385},
{"x":1053,"a":353,"b":358.5,"c":372.5,"z":341.8,"h":1.41,"n":-0.086,"g":1.32},
{"x":1056,"a":357.5,"b":364,"c":382,"z":342.2,"h":1.455,"n":-0.066,"g":1.385},
{"x":1059,"a":353,"b":358,"c":372,"z":341.8,"h":1.405,"n":-0.088,"g":1.32},
{"x":1062,"a":358,"b":364.5,"c":383.5,"z":342.2,"h":1.46,"n":-0.065,"g":1.39},
{"x":1065,"a":352.5,"b":358,"c":372.5,"z":341.8,"h":1.41,"n":-0.09,"g":1.325},
{"x":1068,"a":357.5,"b":363.5,"c":382,"z":342.2,"h":1.465,"n":-0.066,"g":1.385},
{"x":1071,"a":353,"b":358.5,"c":372,"z":341.8,"h":1.405,"n":-0.088,"g":1.32},
{"x":1074,"a":358,"b":364,"c":383,"z":342.2,"h":1.46,"n":-0.067,"g":1.39},
{"x":1077,"a":353,"b":358,"c":372.5,"z":341.8,"h":1.41,"n":-0.092,"g":1.325},
{"x":1080,"a":357.5,"b":364.5,"c":382,"z":342.2,"h":1.465,"n":-0.066,"g":1.385},
{"x":1083,"a":352.5,"b":358,"c":372,"z":341.8,"h":1.41,"n":-0.09,"g":1.32},
{"x":1086,"a":358,"b":363.5,"c":383.5,"z":342.2,"h":1.46,"n":-0.067,"g":1.39},
{"x":1089,"a":353,"b":358.5,"c":372.5,"z":341.8,"h":1.415,"n":-0.094,"g":1.325},
{"x":1092,"a":357.5,"b":364,"c":382,"z":342.2,"h":1.465,"n":-0.066,"g":1.39},
{"x":1095,"a":353,"b":358,"c":372,"z":341.8,"h":1.41,"n":-0.09,"g":1.33},
{"x":1098,"a":358,"b":364.5,"c":383,"z":342.2,"h":1.47,"n":-0.068,"g":1.39},
{"x":1101,"a":352.5,"b":358,"c":372.5,"z":341.8,"h":1.415,"n":-0.088,"g":1.335},
{"x":1104,"a":357.5,"b":363.5,"c":382,"z":342.2,"h":1.47,"n":-0.066,"g":1.395},
{"x":1107,"a":353,"b":358.5,"c":372,"z":341.8,"h":1.415,"n":-0.09,"g":1.335},
{"x":1110,"a":358,"b":364,"c":383.5,"z":342.2,"h":1.475,"n":-0.067,"g":1.39},
{"x":1113,"a":353,"b":358,"c":372.5,"z":341.8,"h":1.42,"n":-0.088,"g":1.34},
{"x":1116,"a":357.5,"b":364.5,"c":382,"z":342.2,"h":1.47,"n":-0.066,"g":1.395},
{"x":1119,"a":352.5,"b":358,"c":372,"z":341.8,"h":1.415,"n":-0.09,"g":1.335},
{"x":1122,"a":358,"b":363.5,"c":383,"z":342.2,"h":1.475,"n":-0.065,"g":1.39},
{"x":1125,"a":353,"b":358.5,"c":372.5,"z":341.8,"h":1.42,"n":-0.087,"g":1.34},
{"x":1128,"a":357.5,"b":364,"c":382,"z":342.2,"h":1.48,"n":-0.066,"g":1.395},
{"x":1131,"a":353,"b":358,"c":372,"z":341.8,"h":1.415,"n":-0.089,"g":1.335},
{"x":1134,"a":358,"b":364.5,"c":383.5,"z":342.2,"h":1.475,"n":-0.065,"g":1.39},
{"x":1137,"a":352.5,"b":358,"c":372.5,"z":341.8,"h":1.42,"n":-0.088,"g":1.34},
{"x":1140,"a":357.5,"b":363.5,"c":382,"z":342.2,"h":1.48,"n":-0.066,"g":1.395},
{"x":1143,"a":353,"b":358.5,"c":372,"z":341.8,"h":1.415,"n":-0.09,"g":1.335},
{"x":1146,"a":358,"b":364,"c":383,"z":342.2,"h":1.475,"n":-0.064,"g":1.39},
{"x":1149,"a":353,"b":358,"c":372.5,"z":341.8,"h":1.42,"n":-0.087,"g":1.34},
{"x":1152,"a":357.5,"b":364.5,"c":382,"z":342.2,"h":1.48,"n":-0.065,"g":1.395},
{"x":1155,"a":352.5,"b":358,"c":372,"z":341.8,"h":1.415,"n":-0.088,"g":1.335},
{"x":1158,"a":358,"b":363.5,"c":383.5,"z":342.2,"h":1.475,"n":-0.064,"g":1.39},
{"x":1161,"a":353,"b":358.5,"c":372.5,"z":341.8,"h":1.42,"n":-0.086,"g":1.34},
{"x":1164,"a":357.5,"b":364,"c":382,"z":342.2,"h":1.48,"n":-0.066,"g":1.395},
{"x":1167,"a":353,"b":358,"c":372,"z":341.8,"h":1.415,"n":-0.088,"g":1.335},
{"x":1170,"a":358,"b":364.5,"c":383,"z":342.2,"h":1.475,"n":-0.064,"g":1.39},
{"x":1173,"a":352.5,"b":358,"c":372.5,"z":341.8,"h":1.42,"n":-0.087,"g":1.34},
{"x":1176,"a":358.5,"b":363.5,"c":382,"z":342.2,"h":1.48,"n":-0.065,"g":1.395},
{"x":1179,"a":353,"b":358.5,"c":372,"z":341.8,"h":1.415,"n":-0.086,"g":1.335},
{"x":1182,"a":357.5,"b":364,"c":383.5,"z":342.2,"h":1.475,"n":-0.064,"g":1.39},
{"x":1185,"a":353,"b":358,"c":372.5,"z":341.8,"h":1.42,"n":-0.088,"g":1.34},
{"x":1188,"a":358,"b":364.5,"c":382,"z":342.2,"h":1.48,"n":-0.066,"g":1.395},
{"x":1191,"a":353,"b":358,"c":372,"z":341.8,"h":1.415,"n":-0.086,"g":1.335},
{"x":1194,"a":357.5,"b":363.5,"c":383,"z":342.2,"h":1.48,"n":-0.065,"g":1.39},
{"x":1197,"a":353.5,"b":358.5,"c":372.5,"z":341.8,"h":1.42,"n":-0.088,"g":1.34},
{"x":1200,"a":355.5,"b":361,"c":379,"z":342,"h":1.41,"n":-0.1,"g":1.36}
],
"d1": [
{"x":0,"d":1820},{"x":10,"d":1880},{"x":25,"d":1960},{"x":50,"d":2100},{"x":75,"d":2215},{"x":100,"d":2325},{"x":125,"d":2445},{"x":150,"d":2560},{"x":175,"d":2660},{"x":200,"d":2750},{"x":225,"d":2840},{"x":250,"d":2925},{"x":275,"d":3010},{"x":300,"d":3090},{"x":325,"d":3170},{"x":350,"d":3250},{"x":375,"d":3330},{"x":400,"d":3405},{"x":425,"d":3470},{"x":450,"d":3535},{"x":475,"d":3605},{"x":500,"d":3670},{"x":525,"d":3735},{"x":550,"d":3800},{"x":575,"d":3865},{"x":600,"d":3930},{"x":650,"d":4050},{"x":700,"d":4155},{"x":750,"d":4245},{"x":800,"d":4330},{"x":850,"d":4405},{"x":900,"d":4475},{"x":950,"d":4545},{"x":1000,"d":4605},{"x":1050,"d":4665},{"x":1100,"d":4730},{"x":1150,"d":4785},{"x":1200,"d":4835}
],
"f1": [
{"x":0,"f":79.4},{"x":10,"f":79.4},{"x":18,"f":79.5},{"x":21,"f":79.6},{"x":22,"f":80.1},{"x":30,"f":80.4},{"x":40,"f":80.85},{"x":50,"f":81.3},{"x":55,"f":81.55},{"x":57,"f":81.95},{"x":70,"f":82.2},{"x":90,"f":82.65},{"x":95,"f":82.75},{"x":97,"f":83.2},{"x":110,"f":83.35},{"x":120,"f":83.5},{"x":135,"f":83.8},{"x":148,"f":84.05},{"x":150,"f":84.5},{"x":160,"f":84.8},{"x":170,"f":85.0},{"x":175,"f":84.85},{"x":190,"f":84.85},{"x":200,"f":84.75},{"x":206,"f":84.7},{"x":209,"f":84.5},{"x":211,"f":84.95},{"x":218,"f":84.95},{"x":240,"f":84.3},{"x":255,"f":84.0},{"x":268,"f":83.7},{"x":271,"f":83.7},{"x":273,"f":84.15},{"x":276,"f":83.95},{"x":290,"f":84.05},{"x":300,"f":84.1},{"x":310,"f":84.1},{"x":320,"f":84.4},{"x":335,"f":84.8},{"x":344,"f":85.1},{"x":346,"f":85.6},{"x":360,"f":86.1},{"x":370,"f":86.35},{"x":385,"f":86.95},{"x":400,"f":87.42},{"x":420,"f":88.05},{"x":434,"f":88.5},{"x":437,"f":89.1},{"x":445,"f":89.35},{"x":470,"f":89.55},{"x":500,"f":90.1},{"x":530,"f":90.7},{"x":549,"f":91.0},{"x":551,"f":91.7},{"x":580,"f":92.05},{"x":610,"f":92.55},{"x":630,"f":92.95},{"x":650,"f":92.9},{"x":672,"f":92.8},{"x":674,"f":93.2},{"x":700,"f":93.12},{"x":750,"f":92.9},{"x":800,"f":92.6},{"x":805,"f":92.5},{"x":807,"f":92.9},{"x":850,"f":92.65},{"x":900,"f":92.2},{"x":950,"f":91.95},{"x":985,"f":91.8},{"x":987,"f":92.2},{"x":990,"f":91.8},{"x":1004,"f":91.8},{"x":1006,"f":92.2},{"x":1050,"f":92.15},{"x":1090,"f":92.05},{"x":1150,"f":92.45},{"x":1200,"f":92.85}
]
},
"vconcat": [
{
 "width": 988, "height": 513,
 "data": {"name": "w"},
 "encoding": {
  "x": {"field": "x", "type": "quantitative", "scale": {"domain": [0, 1200], "nice": false}, "axis": {"values": [0,100,200,300,400,500,600,700,800,900,1000,1100,1200], "grid": true, "labels": false, "ticks": false, "domain": false, "title": null}},
  "color": {"field": "k", "type": "nominal", "scale": {"domain": ["a","b","c","z"], "range": ["#ff0000","#0000ff","#ff00ff","#000000"]},
   "legend": {"orient": "none", "legendX": 702, "legendY": -6, "title": null, "direction": "vertical", "labelFontSize": 33,
    "labelExpr": "datum.value=='a'?'1%-Lage':datum.value=='b'?'5%-lage':datum.value=='c'?'50%-Lage':'ZZP'",
    "symbolStrokeWidth": {"expr": "datum.value=='c'||datum.value=='z'?6:2"}}}
 },
 "layer": [
  {"transform": [{"fold": ["c"], "as": ["k","v"]}], "mark": {"type": "line", "strokeWidth": 4},
   "encoding": {"y": {"field": "v", "type": "quantitative", "scale": {"domain": [330,410], "nice": false, "zero": false},
    "axis": {"orient": "left", "offset": 6, "values": [330,335,340,345,350,355,360,365,370,375,380,385,390,395,400,405,410],
     "tickSize": {"condition": {"test": "datum.value%10==0", "value": 10}, "value": 5},
     "labelExpr": "datum.value%10==0?format(datum.value,'d'):''", "labelPadding": 10,
     "grid": true, "gridOpacity": {"condition": {"test": "datum.value%10==0", "value": 1}, "value": 0},
     "title": "Umsatzlagen\u00a0\u00a0\u00a0[°KW]", "titlePadding": 14}}}},
  {"transform": [{"fold": ["b"], "as": ["k","v"]}], "mark": {"type": "line", "strokeWidth": 2.8},
   "encoding": {"y": {"field": "v", "type": "quantitative", "scale": {"domain": [330,410], "nice": false, "zero": false}, "axis": null}}},
  {"transform": [{"fold": ["a"], "as": ["k","v"]}], "mark": {"type": "line", "strokeWidth": 2.8},
   "encoding": {"y": {"field": "v", "type": "quantitative", "scale": {"domain": [330,410], "nice": false, "zero": false}, "axis": null}}},
  {"transform": [{"fold": ["z"], "as": ["k","v"]}], "mark": {"type": "line", "strokeWidth": 5},
   "encoding": {"y": {"field": "v", "type": "quantitative", "scale": {"domain": [330,410], "nice": false, "zero": false},
    "axis": {"orient": "right", "offset": 8, "values": [330,335,340,345,350,355,360,365,370,375,380,385,390,395,400,405,410],
     "tickSize": {"condition": {"test": "datum.value%10==0", "value": 10}, "value": 5},
     "labelExpr": "datum.value%10==0?format(datum.value,'d'):''", "labelPadding": 7, "grid": false,
     "title": "Zündwinkel\u00a0\u00a0\u00a0[°KW]", "titleAngle": 270, "titleBaseline": "top", "titlePadding": 21}}}}
 ],
 "resolve": {"scale": {"y": "independent"}}
},
{
 "width": 988, "height": 513,
 "data": {"name": "w"},
 "encoding": {
  "x": {"field": "x", "type": "quantitative", "scale": {"domain": [0, 1200], "nice": false}, "axis": {"values": [0,100,200,300,400,500,600,700,800,900,1000,1100,1200], "grid": true, "labels": false, "ticks": false, "domain": false, "title": null}},
  "color": {"field": "k", "type": "nominal", "scale": {"domain": ["h","n","g"], "range": ["#ff0000","#0000ff","#000000"]},
   "legend": {"orient": "none", "legendX": 782, "legendY": 204, "title": null, "direction": "vertical", "labelFontSize": 27,
    "labelExpr": "datum.value=='h'?'wi.HD':datum.value=='n'?'wi.ND':'wi.ges'",
    "symbolStrokeWidth": {"expr": "datum.value=='g'?6:2"}}}
 },
 "layer": [
  {"transform": [{"fold": ["h"], "as": ["k","v"]}], "mark": {"type": "line", "strokeWidth": 2},
   "encoding": {"y": {"field": "v", "type": "quantitative", "scale": {"domain": [1,1.5], "nice": false, "zero": false},
    "axis": {"orient": "left", "offset": 6, "values": [1,1.025,1.05,1.075,1.1,1.125,1.15,1.175,1.2,1.225,1.25,1.275,1.3,1.325,1.35,1.375,1.4,1.425,1.45,1.475,1.5],
     "tickSize": {"condition": {"test": "abs(datum.value*20-round(datum.value*20))<0.01", "value": 10}, "value": 5},
     "labelExpr": "abs(datum.value*20-round(datum.value*20))<0.01?format(datum.value,'.2f'):''", "labelPadding": 10,
     "grid": false, "title": "ind.\u00a0Arbeit\u00a0(HD,\u00a0Gesamt)\u00a0\u00a0\u00a0[J/cm³]", "titlePadding": 14}}}},
  {"transform": [{"fold": ["n"], "as": ["k","v"]}], "mark": {"type": "line", "strokeWidth": 2},
   "encoding": {"y": {"field": "v", "type": "quantitative", "scale": {"domain": [-0.1,0.06], "nice": false, "zero": false},
    "axis": {"orient": "right", "offset": 8, "values": [-0.1,-0.09,-0.08,-0.07,-0.06,-0.05,-0.04,-0.03,-0.02,-0.01,0,0.01,0.02,0.03,0.04,0.05,0.06],
     "tickSize": {"condition": {"test": "abs(datum.value*50-round(datum.value*50))<0.01", "value": 10}, "value": 5},
     "labelExpr": "abs(datum.value*50-round(datum.value*50))<0.01?replace(format(datum.value,'.2f'),'−','-'):''", "labelPadding": 7,
     "grid": true, "gridOpacity": {"condition": {"test": "abs(datum.value*50-round(datum.value*50))<0.01", "value": 1}, "value": 0},
     "title": "ind.\u00a0Arbeit\u00a0(ND)\u00a0\u00a0\u00a0[J/cm³]", "titleAngle": 270, "titleBaseline": "top", "titlePadding": 25}}}},
  {"transform": [{"fold": ["g"], "as": ["k","v"]}], "mark": {"type": "line", "strokeWidth": 4},
   "encoding": {"y": {"field": "v", "type": "quantitative", "scale": {"domain": [1,1.5], "nice": false, "zero": false}, "axis": null}}}
 ],
 "resolve": {"scale": {"y": "independent"}}
},
{
 "width": 988, "height": 513,
 "encoding": {
  "x": {"field": "x", "type": "quantitative", "scale": {"domain": [0, 1200], "nice": false},
   "axis": {"orient": "bottom", "offset": 7, "values": [0,100,200,300,400,500,600,700,800,900,1000,1100,1200],
    "tickSize": {"condition": {"test": "datum.value%200==0", "value": 9}, "value": 4},
    "labelExpr": "datum.value%200==0?format(datum.value,'d'):''", "labelPadding": 6, "grid": true,
    "title": "Arbeitsspiel\u00a0\u00a0\u00a0[-]", "titlePadding": 14}},
  "color": {"field": "k", "type": "nominal", "scale": {"domain": ["d","f"], "range": ["#000000","#ff0000"]},
   "legend": {"orient": "none", "legendX": 690, "legendY": 348, "title": null, "direction": "vertical", "labelFontSize": 33,
    "labelExpr": "datum.value=='d'?'Drehzahl':'rel. Füllung'",
    "symbolStrokeWidth": 6}}
 },
 "layer": [
  {"data": {"name": "d1"}, "transform": [{"fold": ["d"], "as": ["k","v"]}], "mark": {"type": "line", "strokeWidth": 4.5},
   "encoding": {"y": {"field": "v", "type": "quantitative", "scale": {"domain": [1500,5500], "nice": false, "zero": false},
    "axis": {"orient": "left", "offset": 6, "values": [1500,1750,2000,2250,2500,2750,3000,3250,3500,3750,4000,4250,4500,4750,5000,5250,5500],
     "tickSize": {"condition": {"test": "datum.value%500==0", "value": 10}, "value": 5},
     "labelExpr": "datum.value%500==0?format(datum.value,'d'):''", "labelPadding": 10,
     "grid": true, "gridOpacity": {"condition": {"test": "datum.value%500==0", "value": 1}, "value": 0},
     "title": "Drehzahl\u00a0\u00a0\u00a0[U/min]", "titlePadding": 14}}}},
  {"data": {"name": "f1"}, "transform": [{"fold": ["f"], "as": ["k","v"]}], "mark": {"type": "line", "strokeWidth": 5},
   "encoding": {"y": {"field": "v", "type": "quantitative", "scale": {"domain": [75,95], "nice": false, "zero": false},
    "axis": {"orient": "right", "offset": 8, "values": [75,76.25,77.5,78.75,80,81.25,82.5,83.75,85,86.25,87.5,88.75,90,91.25,92.5,93.75,95],
     "tickSize": {"condition": {"test": "datum.value%2.5==0", "value": 10}, "value": 5},
     "labelExpr": "datum.value%2.5==0?format(datum.value,'.1f'):''", "labelPadding": 7, "grid": false,
     "title": "relative\u00a0Füllung\u00a0\u00a0\u00a0[%]", "titleAngle": 270, "titleBaseline": "top", "titlePadding": 23}}}}
 ],
 "resolve": {"scale": {"y": "independent"}}
}
]
}
